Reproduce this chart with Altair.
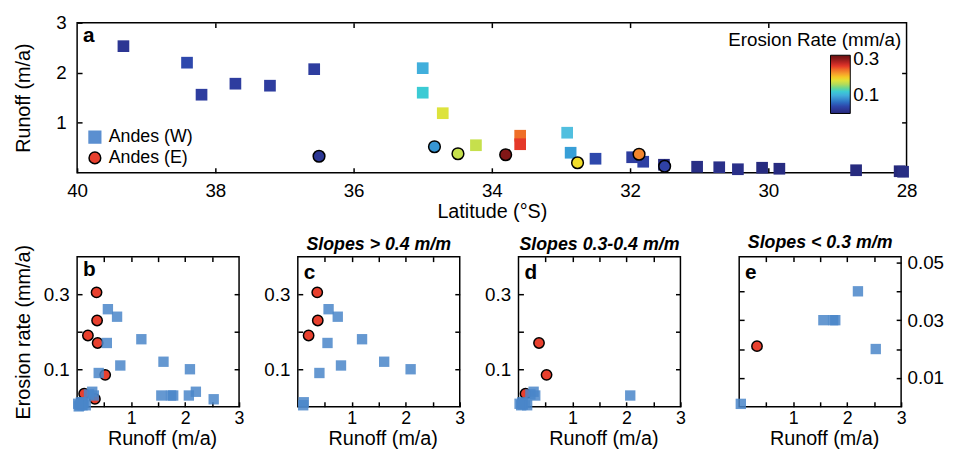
import altair as alt
import pandas as pd

FONT = "Liberation Sans"

# ---------------- data ----------------
latitude = [39.33, 38.41, 38.20, 37.71, 37.21, 36.57, 35.00, 35.00, 34.71, 34.23, 33.59, 33.59, 32.91, 32.86,
            32.50, 31.97, 31.81, 31.51, 31.03, 30.71, 30.44, 30.09, 29.84, 28.73, 28.10, 28.05,
            36.50, 34.83, 34.49, 33.80, 32.76, 31.87, 31.50]
runoff = [2.53, 2.20, 1.56, 1.78, 1.74, 2.07, 2.09, 1.60, 1.19, 0.55, 0.74, 0.57, 0.80, 0.40,
          0.28, 0.31, 0.22, 0.16, 0.12, 0.11, 0.07, 0.10, 0.08, 0.05, 0.03, 0.02,
          0.33, 0.52, 0.38, 0.36, 0.20, 0.37, 0.13]
erosion = [0.020, 0.040, 0.030, 0.030, 0.030, 0.030, 0.100, 0.120, 0.180, 0.170, 0.240, 0.260, 0.110, 0.090,
           0.040, 0.030, 0.033, 0.004, 0.010, 0.012, 0.012, 0.004, 0.006, 0.004, 0.001, 0.008,
           0.021, 0.085, 0.170, 0.305, 0.190, 0.230, 0.035]
group = ["Andes (W)"] * 26 + ["Andes (E)"] * 7
slope = ["e", "e", "e", "e", "e", "d", "c", "c", "c", "c", "c", "c", "c", "c",
         "d", "d", "d", "d", "d", "c", "d", "c", "d", "d", "e", "d",
         "e", "d", "d", "c", "c", "c", "d"]

lat_ticks = [28, 30, 32, 34, 36, 38, 40]
lat_top_ticks = [30, 32, 34, 36, 38]
runoff_ticks = [1, 2, 3]
runoff_right_ticks = [1, 2]
runoff_x_ticks = [0.5, 1, 1.5, 2, 2.5, 3]
runoff_x_top_ticks = [0.5, 1, 1.5, 2, 2.5]
erosion_ticks = [0.1, 0.2, 0.3]
erosion_e_ticks = [0.01, 0.02, 0.03, 0.04, 0.05]
erosion_e_left_ticks = [0.01, 0.02, 0.03, 0.04]
colorbar_labels = [0.1, 0.3]
color_stops = [0, 0.0375, 0.075, 0.1125, 0.15, 0.1875, 0.225, 0.2625, 0.3, 0.32]
jet_colors = ["#26287a", "#2f43a9", "#3a85cc", "#56c3e0", "#9fd66a",
              "#f0e42e", "#f49030", "#e3302a", "#8a1a1a", "#6a1010"]
colorbar_title = ["Erosion Rate (mm/a)"]
panel_letters = ["a", "b", "c", "d", "e"]
panel_titles = ["", "Slopes > 0.4 m/m", "Slopes 0.3-0.4 m/m", "Slopes < 0.3 m/m"]
panel_classes = ["all", "c", "d", "e"]

W, E = "Andes (W)", "Andes (E)"
df = pd.DataFrame({"lat": latitude, "runoff": runoff, "erosion": erosion,
                   "group": group, "slope": slope})
base = alt.Chart(df)


def ax(orient, values, labels=True, **kw):
    d = dict(orient=orient, values=values, offset=-5, tickSize=5, tickWidth=1.5, tickColor="black",
             domain=False, grid=False, labelFontSize=19, labelColor="black", labelFont=FONT,
             labelFlush=False, labelOverlap=False,
             titleFontSize=20, titleFontWeight="normal", titleColor="black", titleFont=FONT)
    if not labels:
        d["labels"] = False
        d["title"] = None
    d.update(kw)
    return alt.Axis(**d)


# ---------------- panel a ----------------
lat_scale = alt.Scale(domain=[28, 40], reverse=True, nice=False)
run_scale = alt.Scale(domain=[0, 3], nice=False)

xa_b = alt.X("lat:Q", scale=lat_scale,
             axis=ax("bottom", lat_ticks, format="d", labelPadding=9, title="Latitude (°S)",
                     titleY=50, titleBaseline="alphabetic"))
ya_l = alt.Y("runoff:Q", scale=run_scale,
             axis=ax("left", runoff_ticks, format="d", labelPadding=11, title="Runoff (m/a)",
                     titleX=-53, titleBaseline="alphabetic"))
xa_t = alt.X("lat:Q", scale=lat_scale, axis=ax("top", lat_top_ticks, labels=False))
ya_r = alt.Y("runoff:Q", scale=run_scale, axis=ax("right", runoff_right_ticks, labels=False))
xa_n = alt.X("lat:Q", scale=lat_scale, axis=None)
ya_n = alt.Y("runoff:Q", scale=run_scale, axis=None)

color_enc = alt.Color(
    "erosion:Q",
    scale=alt.Scale(domain=color_stops, range=jet_colors, clamp=True),
    legend=alt.Legend(title=None, orient="none", legendX=763, legendY=33, direction="vertical",
                      gradientLength=59, gradientThickness=20, values=colorbar_labels, format=".1f",
                      labelFontSize=19, labelColor="black", labelOffset=3, labelBaseline="middle",
                      gradientStrokeColor="black", gradientStrokeWidth=1, padding=0))

shape_enc = alt.Shape(
    "group:N",
    scale=alt.Scale(domain=[W, E], range=["square", "circle"]),
    legend=alt.Legend(title=None, orient="none", legendX=9, legendY=107, labelFontSize=18,
                      labelColor="black", labelOffset=5, symbolSize=140, rowPadding=3,
                      padding=0, symbolStrokeWidth=1.5, symbolOpacity=1,
                      symbolFillColor={"expr": "datum.value === 'Andes (W)' ? '#5b8fd0' : '#e8402e'"},
                      symbolStrokeColor={"expr": "datum.value === 'Andes (W)' ? '#5b8fd0' : 'black'"}))

sq_a = base.transform_filter(f"datum.group == '{W}'").mark_point(
    filled=True, size=140, opacity=1).encode(x=xa_b, y=ya_l, color=color_enc, shape=shape_enc)
ci_a = base.transform_filter(f"datum.group == '{E}'").mark_point(
    filled=True, size=140, opacity=1, stroke="black", strokeWidth=1.5).encode(
    x=xa_n, y=ya_n, color=color_enc, shape=shape_enc)
inv_a = base.mark_point(opacity=0).encode(x=xa_t, y=ya_r)
cb_title = alt.Chart(pd.DataFrame({"t": colorbar_title})).mark_text(
    fontSize=19, align="center", baseline="alphabetic", font=FONT, color="black").encode(
    text="t:N", x=alt.value(747), y=alt.value(24))
let_a = alt.Chart(pd.DataFrame({"t": [panel_letters[0]]})).mark_text(
    fontSize=21, fontWeight="bold", align="left", baseline="alphabetic", font=FONT,
    color="black").encode(text="t:N", x=alt.value(6), y=alt.value(20))

top = alt.layer(sq_a, ci_a, inv_a, cb_title, let_a).properties(width=840, height=152)


# ---------------- panels b-e ----------------
def panel(i):
    letter = panel_letters[i + 1]
    cls = panel_classes[i]
    title = panel_titles[i]
    src = base if cls == "all" else base.transform_filter(f"datum.slope == '{cls}'")
    is_e = cls == "e"
    xs = alt.Scale(domain=[0, 3], nice=False)
    ys = alt.Scale(domain=[0, 0.052] if is_e else [0, 0.4], nice=False)

    xb = alt.X("runoff:Q", scale=xs,
               axis=ax("bottom", runoff_x_ticks, format=".1f", labelPadding=3, labelFontSize=18,
                       labelExpr="(datum.value == 1 || datum.value == 2 || datum.value == 3) ? format(datum.value, 'd') : ''",
                       title="Runoff (m/a)", titleX=86, titleY=43, titleBaseline="alphabetic"))
    xt = alt.X("runoff:Q", scale=xs, axis=ax("top", runoff_x_top_ticks, labels=False))
    if is_e:
        yl = alt.Y("erosion:Q", scale=ys, axis=ax("left", erosion_e_left_ticks, labels=False))
        yr = alt.Y("erosion:Q", scale=ys,
                   axis=ax("right", erosion_e_ticks, format=".2f", labelPadding=6, title=None,
                           labelExpr="(abs(datum.value - 0.02) < 0.0001 || abs(datum.value - 0.04) < 0.0001) ? '' : datum.label"))
    else:
        kw = dict(format=".1f", labelPadding=8,
                  labelExpr="abs(datum.value - 0.2) < 0.001 ? '' : datum.label")
        if cls == "all":
            kw.update(title="Erosion rate (mm/a)", titleX=-53, titleBaseline="alphabetic")
        else:
            kw.update(title=None)
        yl = alt.Y("erosion:Q", scale=ys, axis=ax("left", erosion_ticks, **kw))
        yr = alt.Y("erosion:Q", scale=ys, axis=ax("right", erosion_ticks, labels=False))
    xn = alt.X("runoff:Q", scale=xs, axis=None)
    yn = alt.Y("erosion:Q", scale=ys, axis=None)

    circ = src.transform_filter(f"datum.group == '{E}'").mark_point(
        filled=True, shape="circle", size=110, fill="#e8402e", stroke="black",
        strokeWidth=1.5, opacity=1).encode(x=xn, y=yn)
    sqr = src.transform_filter(f"datum.group == '{W}'").mark_point(
        filled=True, shape="square", size=110, fill="#4a86c9", opacity=0.85).encode(x=xb, y=yl)
    inv = src.mark_point(opacity=0).encode(x=xt, y=yr)
    let = alt.Chart(pd.DataFrame({"t": [letter]})).mark_text(
        fontSize=21, fontWeight="bold", align="left", baseline="alphabetic", font=FONT,
        color="black").encode(text="t:N", x=alt.value(6), y=alt.value(20 if cls == "all" else 23))
    ch = alt.layer(circ, sqr, inv, let).properties(width=164, height=152)
    if title:
        ch = ch.properties(title=alt.Title(title, fontSize=18, fontWeight="bold", fontStyle="italic",
                                           offset=-12, baseline="alphabetic", anchor="middle",
                                           color="black", font=FONT))
    return ch


bottom = alt.hconcat(*[panel(i) for i in range(4)], spacing=59.5, bounds="flush")

chart = alt.vconcat(top, bottom, spacing=11).properties(
    padding={"left": 5, "top": 2, "right": 5, "bottom": 2}
).configure(font=FONT).configure_view(stroke="black", strokeWidth=1.5)

chart.save("out.html", embed_options={"renderer": "svg", "actions": False})
